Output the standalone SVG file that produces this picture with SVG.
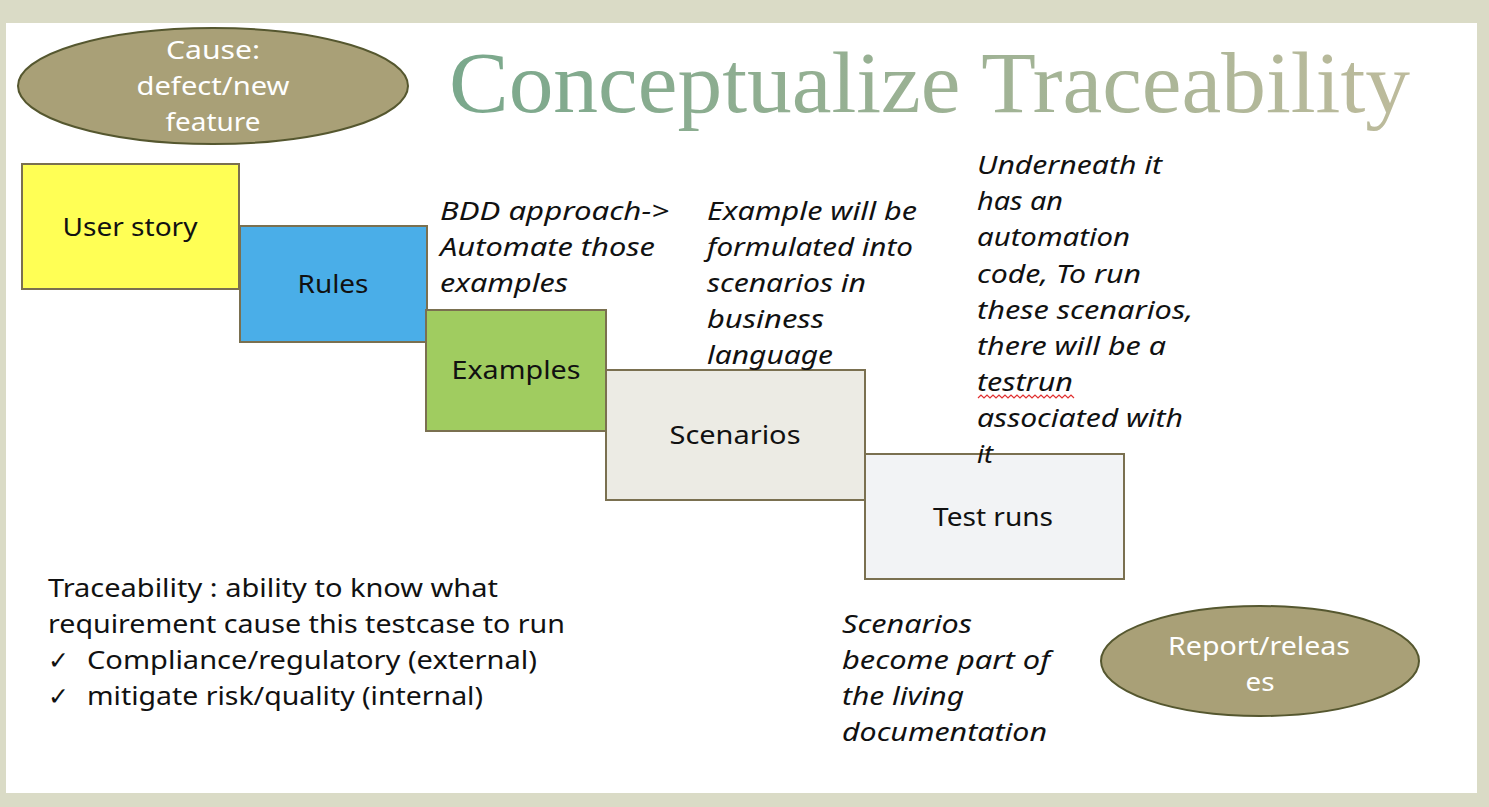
<svg xmlns="http://www.w3.org/2000/svg" width="1489" height="807" viewBox="0 0 1489 807">
<defs>
<linearGradient id="tg" x1="0" y1="0" x2="1" y2="0">
<stop offset="0" stop-color="#7aa88c"/>
<stop offset="1" stop-color="#bdbb9c"/>
</linearGradient>
<style>
.box{stroke:#7a7050;stroke-width:2}
.oval{fill:#a9a077;stroke:#55572f;stroke-width:2}
text{font-family:"Noto Sans",Lato,sans-serif;font-size:25px}
.lbl{fill:#111;text-anchor:middle}
.wl{fill:#fff;text-anchor:middle}
.it{font-style:italic;fill:#111}
.bd{fill:#111}
</style>
</defs>
<rect x="0" y="0" width="1489" height="807" fill="#dadbc6"/>
<rect x="6" y="23" width="1471" height="770" fill="#ffffff"/>
<text x="449" y="112" style="font-family:'Liberation Serif',serif;font-size:86px" fill="url(#tg)" textLength="961" lengthAdjust="spacingAndGlyphs">Conceptualize Traceability</text>

<g id="cause">
<ellipse class="oval" cx="213" cy="86" rx="195" ry="58"/>
<text class="wl" x="213" y="59" textLength="94" lengthAdjust="spacingAndGlyphs">Cause:</text>
<text class="wl" x="213" y="95" textLength="153" lengthAdjust="spacingAndGlyphs">defect/new</text>
<text class="wl" x="213" y="131" textLength="95" lengthAdjust="spacingAndGlyphs">feature</text>
</g>
<g id="userstory">
<rect class="box" x="22" y="164" width="217" height="125" fill="#ffff55"/>
<text class="lbl" x="130" y="236" textLength="135" lengthAdjust="spacingAndGlyphs">User story</text>
</g>
<g id="rules">
<rect class="box" x="240" y="226" width="187" height="116" fill="#4aaee8"/>
<text class="lbl" x="333" y="293" textLength="71" lengthAdjust="spacingAndGlyphs">Rules</text>
</g>
<g id="examples">
<rect class="box" x="426" y="310" width="180" height="121" fill="#a0cc60"/>
<text class="lbl" x="516" y="379" textLength="129" lengthAdjust="spacingAndGlyphs">Examples</text>
</g>
<g id="scenarios">
<rect class="box" x="606" y="370" width="259" height="130" fill="#ecebe4"/>
<text class="lbl" x="735" y="444" textLength="131" lengthAdjust="spacingAndGlyphs">Scenarios</text>
</g>
<g id="testruns">
<rect class="box" x="865" y="454" width="259" height="125" fill="#f2f3f5"/>
<text class="lbl" x="993" y="526" textLength="120" lengthAdjust="spacingAndGlyphs">Test runs</text>
</g>
<g id="report">
<ellipse class="oval" cx="1260" cy="661" rx="159" ry="55"/>
<text class="wl" x="1259" y="655" textLength="182" lengthAdjust="spacingAndGlyphs">Report/releas</text>
<text class="wl" x="1260" y="691" textLength="29" lengthAdjust="spacingAndGlyphs">es</text>
</g>

<g id="notes">
<text class="it" x="440" y="220" textLength="229" lengthAdjust="spacingAndGlyphs">BDD approach-&gt;</text>
<text class="it" x="440" y="256" textLength="215" lengthAdjust="spacingAndGlyphs">Automate those</text>
<text class="it" x="440" y="292" textLength="128" lengthAdjust="spacingAndGlyphs">examples</text>

<text class="it" x="707" y="220" textLength="210" lengthAdjust="spacingAndGlyphs">Example will be</text>
<text class="it" x="707" y="256" textLength="206" lengthAdjust="spacingAndGlyphs">formulated into</text>
<text class="it" x="707" y="292" textLength="159" lengthAdjust="spacingAndGlyphs">scenarios in</text>
<text class="it" x="707" y="328" textLength="117" lengthAdjust="spacingAndGlyphs">business</text>
<text class="it" x="707" y="364" textLength="126" lengthAdjust="spacingAndGlyphs">language</text>

<text class="it" x="977" y="174" textLength="185" lengthAdjust="spacingAndGlyphs">Underneath it</text>
<text class="it" x="977" y="210" textLength="86" lengthAdjust="spacingAndGlyphs">has an</text>
<text class="it" x="977" y="246" textLength="153" lengthAdjust="spacingAndGlyphs">automation</text>
<text class="it" x="977" y="283" textLength="164" lengthAdjust="spacingAndGlyphs">code, To run</text>
<text class="it" x="977" y="319" textLength="216" lengthAdjust="spacingAndGlyphs">these scenarios,</text>
<text class="it" x="977" y="355" textLength="189" lengthAdjust="spacingAndGlyphs">there will be a</text>
<text class="it" x="977" y="391" textLength="96" lengthAdjust="spacingAndGlyphs">testrun</text>
<text class="it" x="977" y="427" textLength="206" lengthAdjust="spacingAndGlyphs">associated with</text>
<text class="it" x="977" y="463" textLength="16" lengthAdjust="spacingAndGlyphs">it</text>
<path d="M978 398 l3 -3 l3 3 l3 -3 l3 3 l3 -3 l3 3 l3 -3 l3 3 l3 -3 l3 3 l3 -3 l3 3 l3 -3 l3 3 l3 -3 l3 3 l3 -3 l3 3 l3 -3 l3 3 l3 -3 l3 3 l3 -3 l3 3 l3 -3 l3 3 l3 -3 l3 3 l3 -3 l3 3 l3 -3 l3 3" fill="none" stroke="#e03030" stroke-width="1.2"/>

<text class="it" x="842" y="633" textLength="130" lengthAdjust="spacingAndGlyphs">Scenarios</text>
<text class="it" x="842" y="669" textLength="208" lengthAdjust="spacingAndGlyphs">become part of</text>
<text class="it" x="842" y="705" textLength="122" lengthAdjust="spacingAndGlyphs">the living</text>
<text class="it" x="842" y="741" textLength="205" lengthAdjust="spacingAndGlyphs">documentation</text>

<text class="bd" x="48" y="597" textLength="450" lengthAdjust="spacingAndGlyphs">Traceability : ability to know what</text>
<text class="bd" x="48" y="633" textLength="517" lengthAdjust="spacingAndGlyphs">requirement cause this testcase to run</text>
<text class="bd" x="48" y="669">✓</text>
<text class="bd" x="87" y="669" textLength="450" lengthAdjust="spacingAndGlyphs">Compliance/regulatory (external)</text>
<text class="bd" x="48" y="705">✓</text>
<text class="bd" x="87" y="705" textLength="396" lengthAdjust="spacingAndGlyphs">mitigate risk/quality (internal)</text>
</g>
</svg>
